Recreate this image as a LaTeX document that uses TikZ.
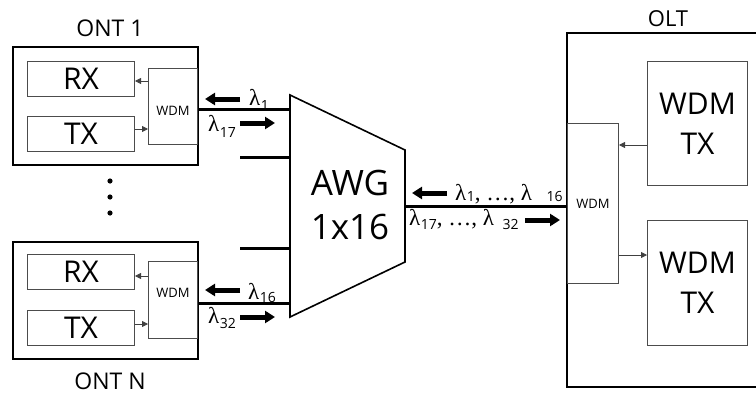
\documentclass[tikz,border=0pt]{standalone}
\usepackage{fontspec}
\setmainfont{Open Sans}
\newfontfamily\lamfont{Liberation Serif}
\usetikzlibrary{arrows.meta}
\newcommand\lsub[2][-5pt]{\kern0.5pt\raisebox{#1}{\rmfamily\fontsize{14}{14}\selectfont #2}}
\begin{document}
\begin{tikzpicture}[x=1pt,y=-1pt,
  outer/.style={draw, line width=2pt, inner sep=0pt},
  inbox/.style={draw=black!70, line width=1pt, inner sep=0pt, anchor=north west},
  bigtxt/.style={font=\fontsize{30}{30}\selectfont},
  smalltxt/.style={font=\fontsize{13}{13}\selectfont},
  title/.style={font=\fontsize{23}{23}\selectfont},
  fiber/.style={line width=3pt},
  sig/.style={draw=black!75, line width=0.8pt, -{Triangle[length=6pt,width=6pt]}},
  blockarrow/.style={line width=5pt, -{Triangle[length=10pt,width=12pt]}},
  lam/.style={font=\lamfont\fontsize{23}{23}\selectfont, inner sep=0pt, anchor=base west}]
\useasboundingbox (0,0) rectangle (756,394);

% ONT 1
\node[title] (ont1lbl) at (110,28) {ONT 1};
\node[outer, minimum width=185pt, minimum height=118pt, anchor=north west] (ont1) at (12,46) {};
\node[inbox, minimum width=107pt, minimum height=35pt] (rx1) at (27,61) {};
\node[bigtxt] at (rx1.center) {RX};
\node[inbox, minimum width=107pt, minimum height=35pt] (tx1) at (27,116) {};
\node[bigtxt] at (tx1.center) {TX};
\node[inbox, minimum width=49pt, minimum height=76pt] (wdm1) at (148,68) {};
\node[smalltxt] at ([yshift=-4pt]wdm1.center) {WDM};
\draw[sig] (wdm1.west |- 0,81) -- (rx1.east |- 0,81);
\draw[sig] (tx1.east |- 0,129) -- (wdm1.west |- 0,129);

% dots
\fill (110,181) circle (2.6pt);
\fill (110,197) circle (2.6pt);
\fill (110,213) circle (2.6pt);

% ONT N
\node[outer, minimum width=185pt, minimum height=117pt, anchor=north west] (ontn) at (12,241) {};
\node[inbox, minimum width=107pt, minimum height=35pt] (rxn) at (27,254) {};
\node[bigtxt] at (rxn.center) {RX};
\node[inbox, minimum width=107pt, minimum height=35pt] (txn) at (27,310) {};
\node[bigtxt] at (txn.center) {TX};
\node[inbox, minimum width=49pt, minimum height=77pt] (wdmn) at (148,261) {};
\node[smalltxt] at ([yshift=7pt]wdmn.center) {WDM};
\draw[sig] (wdmn.west |- 0,276) -- (rxn.east |- 0,276);
\draw[sig] (txn.east |- 0,324) -- (wdmn.west |- 0,324);
\node[title] (ontnlbl) at (110,381) {ONT N};

% AWG
\draw[line width=1.6pt, line join=miter] (290,95) coordinate (awgtl) -- (405,150) coordinate (awgtr)
  -- (405,262) coordinate (awgbr) -- (290,317) coordinate (awgbl) -- cycle;
\node[font=\fontsize{35}{35}\selectfont] (awgt1) at (350,183) {AWG};
\node[font=\fontsize{35}{35}\selectfont] (awgt2) at (350,227) {1x16};
\coordinate (awgp1) at (290,109);
\coordinate (awgp2) at (290,157);
\coordinate (awgp3) at (290,248);
\coordinate (awgp4) at (290,303);
\coordinate (s2) at (240,157);
\coordinate (s3) at (240,248);
\draw[fiber] (wdm1.east |- awgp1) -- (awgp1);
\draw[fiber] (s2) -- (awgp2);
\draw[fiber] (s3) -- (awgp3);
\draw[fiber] (wdmn.east |- awgp4) -- (awgp4);

% OLT
\node[font=\fontsize{22}{22}\selectfont] (oltlbl) at (668,19) {OLT};
\draw[line width=2pt] (757,33) coordinate (oltr1) -- (567,33) -- (567,387) -- (757,387) coordinate (oltr2);
\node[inbox, minimum width=51pt, minimum height=160pt] (owdm) at (567,123) {};
\node[smalltxt] at (owdm.center) {WDM};
\node[inbox, minimum width=100pt, minimum height=124pt] (wtx1) at (647,61) {};
\node[font=\fontsize{30}{40}\selectfont, align=center] at (wtx1.center) {WDM\\TX};
\node[inbox, minimum width=100pt, minimum height=125pt] (wtx2) at (647,220) {};
\node[font=\fontsize{30}{40}\selectfont, align=center] at (wtx2.center) {WDM\\TX};
\draw[sig] (wtx1.west |- 0,145) -- (owdm.east |- 0,145);
\draw[sig] (owdm.east |- 0,255) -- (wtx2.west |- 0,255);
\draw[fiber] (awgtr |- 0,206) -- (owdm.west |- 0,206);

% block arrows
\draw[blockarrow] (240,99) -- (205,99);
\draw[blockarrow] (240,123) -- (275,123);
\draw[blockarrow] (240,290) -- (205,290);
\draw[blockarrow] (240,317) -- (275,317);
\draw[blockarrow] (447,193) -- (412,193);
\draw[blockarrow] (525,220) -- (560,220);

% labels
\node[lam] (l1) at (249,105) {λ\lsub[-5pt]{1}};
\node[lam] (l17) at (208,131) {λ\lsub[-6pt]{17}};
\node[lam] (l16) at (248,299) {λ\lsub[-3pt]{16}};
\node[lam] (l32) at (208,323) {λ\lsub[-5pt]{32}};
\node[lam] (lm1) at (455,200) {λ\lsub[-1pt]{1}, …, λ\hspace{14pt}\lsub[-1pt]{16}};
\node[lam] (lm2) at (409,225) {λ\lsub[-4pt]{17}, …, λ\hspace{8pt}\lsub[-4pt]{32}};
\end{tikzpicture}
\end{document}
